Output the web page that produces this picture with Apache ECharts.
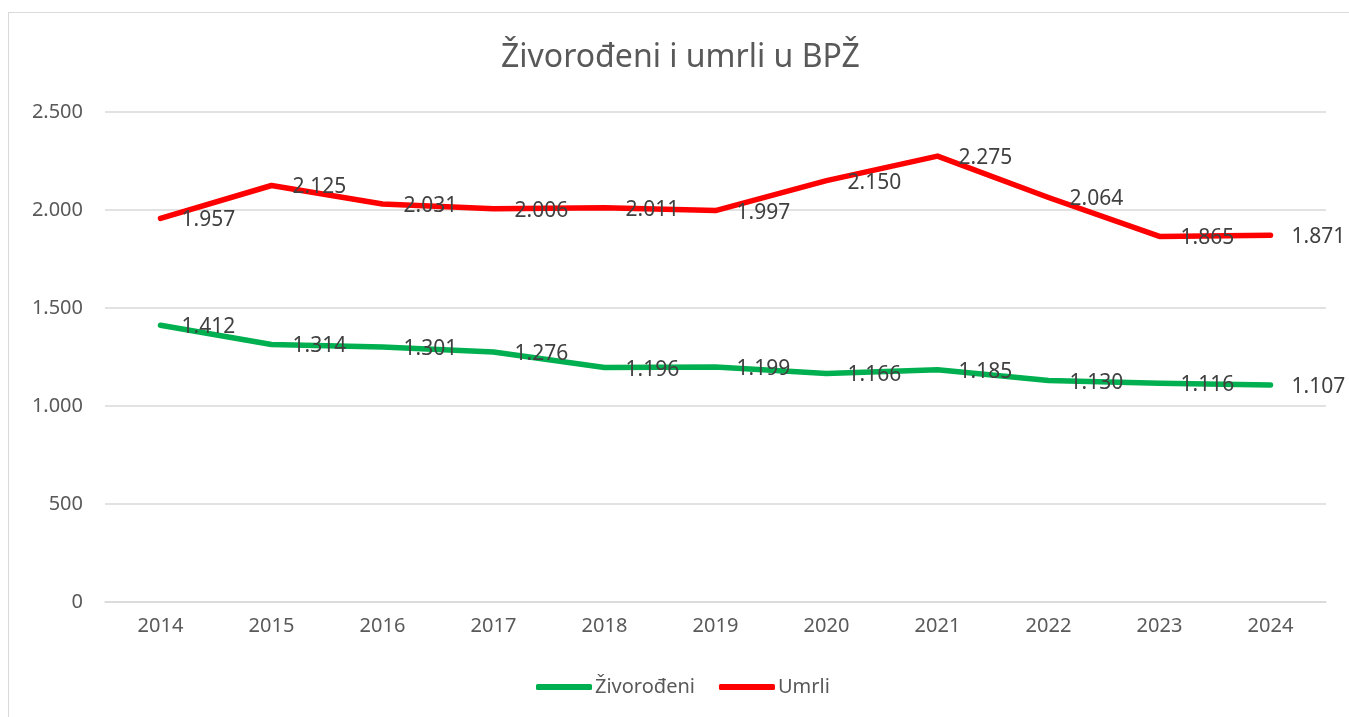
<html>
<head>
    <meta charset="utf-8">
    <script src="https://cdn.jsdelivr.net/npm/echarts@6/dist/echarts.min.js"></script>
    <style>
        body { margin: 0; background: #fff; overflow: hidden; }
        #main { position: absolute; left: 8px; top: 12px; width: 1360px; height: 705px; border: 1px solid #d9d9d9; border-bottom: none; border-right: none; box-sizing: border-box; }
    </style>
</head>
<body>
    <div id="main"></div>
<script type="text/javascript">
    var years = ['2014', '2015', '2016', '2017', '2018', '2019', '2020', '2021', '2022', '2023', '2024'];
    var zivorodeni = [1412, 1314, 1301, 1276, 1196, 1199, 1166, 1185, 1130, 1116, 1107];
    var umrli = [1957, 2125, 2031, 2006, 2011, 1997, 2150, 2275, 2064, 1865, 1871];

    function fmt(v) {
        return String(v).replace(/\B(?=(\d{3})+(?!\d))/g, '.');
    }

    var myChart = echarts.init(document.getElementById('main'));
    var font = 'Noto Sans';

    var labelCfg = {
        show: true,
        position: 'right',
        distance: 20,
        offset: [0, 2],
        color: '#404040',
        fontSize: 21,
        fontFamily: font,
        formatter: function (p) { return fmt(p.value); }
    };

    var option = {
        animation: false,
        title: {
            text: 'Živorođeni i umrli u BPŽ',
            left: 487,
            top: 24,
            textStyle: { color: '#595959', fontSize: 32, fontWeight: 'normal', fontFamily: font }
        },
        legend: {
            bottom: 15,
            left: 522,
            icon: 'roundRect',
            itemWidth: 56,
            itemHeight: 6,
            itemGap: 24,
            textStyle: { color: '#595959', fontSize: 20, fontFamily: font, padding: [0, 0, 0, -2] },
            data: ['Živorođeni', 'Umrli']
        },
        grid: { left: 96, right: 42, top: 99, bottom: 115 },
        xAxis: {
            type: 'category',
            data: years,
            axisLine: { lineStyle: { color: '#d9d9d9', width: 1.5 } },
            axisTick: { show: false },
            axisLabel: { color: '#595959', fontSize: 20, fontFamily: font, margin: 14 }
        },
        yAxis: {
            type: 'value',
            min: 0,
            max: 2500,
            interval: 500,
            axisLine: { show: false },
            axisTick: { show: false },
            splitLine: { lineStyle: { color: '#d9d9d9', width: 1.5 } },
            axisLabel: { color: '#595959', fontSize: 20, fontFamily: font, margin: 22, formatter: fmt }
        },
        series: [
            {
                name: 'Živorođeni',
                type: 'line',
                data: zivorodeni,
                symbol: 'circle',
                symbolSize: 2,
                showSymbol: true,
                lineStyle: { color: '#00B050', width: 5.5, cap: 'round', join: 'round' },
                itemStyle: { color: '#00B050' },
                label: labelCfg
            },
            {
                name: 'Umrli',
                type: 'line',
                data: umrli,
                symbol: 'circle',
                symbolSize: 2,
                showSymbol: true,
                lineStyle: { color: '#FF0000', width: 5.5, cap: 'round', join: 'round' },
                itemStyle: { color: '#FF0000' },
                label: labelCfg
            }
        ]
    };

    myChart.setOption(option);
</script>
</body>
</html>
